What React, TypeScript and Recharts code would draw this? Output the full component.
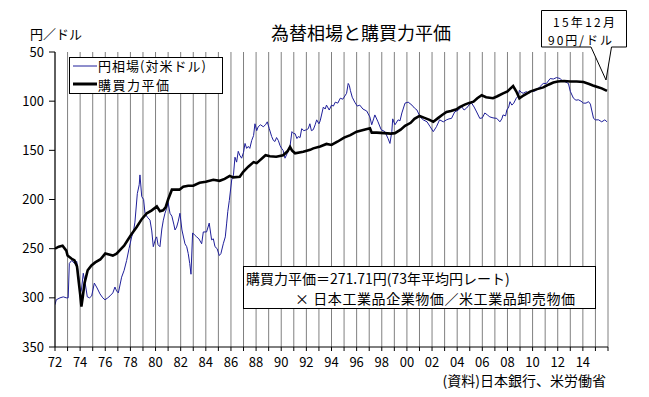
import React from 'react';
import { LineChart, Line, XAxis, YAxis, CartesianGrid } from 'recharts';

// 円相場（対米ドル）: time (year fraction) and value
const yenTimes = [
  1972.0, 1972.1, 1972.4, 1972.66, 1972.9, 1973.05, 1973.14, 1973.33, 1973.55, 1973.73, 1973.9,
  1974.0, 1974.1, 1974.25, 1974.4, 1974.57, 1974.75, 1974.92, 1975.13, 1975.35, 1975.58, 1975.8,
  1975.98, 1976.2, 1976.38, 1976.6, 1976.77, 1976.9, 1977.04, 1977.3, 1977.5, 1977.7, 1977.89,
  1978.1, 1978.25, 1978.36, 1978.55, 1978.7, 1978.76, 1978.9, 1979.05, 1979.16, 1979.35, 1979.56,
  1979.7, 1979.82, 1980.0, 1980.09, 1980.2, 1980.35, 1980.5, 1980.62, 1980.75, 1980.88, 1981.0,
  1981.15, 1981.3, 1981.45, 1981.55, 1981.68, 1981.81, 1981.94, 1982.1, 1982.34, 1982.48, 1982.6,
  1982.72, 1982.82, 1982.95, 1983.1, 1983.27, 1983.45, 1983.67, 1983.8, 1984.06, 1984.27, 1984.46,
  1984.6, 1984.73, 1984.9, 1985.07, 1985.2, 1985.39, 1985.55, 1985.66, 1985.75, 1985.87, 1986.06,
  1986.2, 1986.32, 1986.45, 1986.58, 1986.7, 1986.85, 1987.0, 1987.12, 1987.25, 1987.38, 1987.5,
  1987.65, 1987.8, 1987.91, 1988.05, 1988.17, 1988.35, 1988.57, 1988.75, 1988.89, 1989.05, 1989.24,
  1989.38, 1989.5, 1989.63, 1989.77, 1989.9, 1990.03, 1990.15, 1990.3, 1990.48, 1990.6, 1990.7,
  1990.85, 1991.0, 1991.1, 1991.25, 1991.36, 1991.5, 1991.63, 1991.8, 1992.02, 1992.15, 1992.28,
  1992.4, 1992.55, 1992.7, 1992.82, 1993.0, 1993.1, 1993.35, 1993.5, 1993.6, 1993.82, 1994.0,
  1994.15, 1994.3, 1994.5, 1994.7, 1994.9, 1995.2, 1995.33, 1995.42, 1995.5, 1995.65, 1995.85,
  1996.05, 1996.25, 1996.5, 1996.8, 1997.05, 1997.2, 1997.35, 1997.45, 1997.7, 1997.95, 1998.25,
  1998.5, 1998.65, 1998.8, 1998.87, 1999.05, 1999.3, 1999.45, 1999.6, 1999.85, 2000.1, 2000.4,
  2000.6, 2000.8, 2001.05, 2001.3, 2001.6, 2001.85, 2002.1, 2002.35, 2002.6, 2002.9, 2003.15,
  2003.35, 2003.55, 2003.8, 2004.1, 2004.35, 2004.55, 2004.75, 2005.0, 2005.15, 2005.35, 2005.55,
  2005.8, 2006.0, 2006.2, 2006.4, 2006.6, 2006.85, 2007.15, 2007.4, 2007.55, 2007.65, 2007.85,
  2007.95, 2008.1, 2008.2, 2008.35, 2008.5, 2008.7, 2008.85, 2008.95, 2009.1, 2009.25, 2009.5,
  2009.7, 2009.9, 2010.1, 2010.3, 2010.6, 2010.85, 2011.1, 2011.4, 2011.65, 2011.9, 2012.2,
  2012.4, 2012.55, 2012.85, 2013.0, 2013.25, 2013.45, 2013.65, 2013.85, 2014.05, 2014.25, 2014.45,
  2014.6, 2014.7, 2014.85, 2015.0, 2015.25, 2015.5, 2015.75, 2015.92,
];
const yenValues = [
  307, 302, 300, 299, 300, 300, 265, 262, 265, 263, 280,
  296, 292, 275, 285, 299, 300, 298, 285, 290, 296, 300,
  302, 300, 298, 295, 289, 293, 295, 279, 272, 262, 250,
  238, 232, 223, 194, 185, 175, 197, 200, 214, 218, 221,
  232, 248, 240, 238, 246, 248, 230, 221, 214, 209, 203,
  214, 217, 225, 231, 228, 222, 214, 231, 245, 248, 255,
  265, 276, 234, 236, 238, 240, 245, 233, 233, 224, 241,
  240, 248, 250, 257, 255, 245, 238, 224, 212, 201, 180,
  175, 157, 162, 151, 155, 158, 152, 143, 148, 146, 148,
  140, 135, 123, 130, 126, 124, 126, 124, 121, 128, 136,
  140, 141, 137, 140, 145, 148, 150, 158, 153, 148, 146,
  131, 133, 133, 138, 136, 137, 128, 130, 129, 128, 123,
  130, 129, 124, 119, 123, 120, 106, 108, 104, 109, 104,
  105, 101, 102, 97, 98, 92, 82, 84, 89, 96, 101,
  105, 104, 108, 110, 116, 124, 118, 114, 121, 129, 131,
  138, 143, 131, 118, 124, 119, 120, 112, 102, 101, 104,
  107, 109, 116, 119, 121, 126, 131, 126, 119, 121, 119,
  118, 117.5, 111, 109, 105.6, 109, 107, 103, 102, 106, 111,
  117.5, 117, 112, 114, 116, 117, 117.5, 121, 118, 114, 115,
  109, 106, 100.5, 104, 102, 97, 95, 89, 91, 92, 90.3,
  92, 90, 90, 89, 85, 82, 82, 77, 77.5, 76, 77,
  80, 80, 82, 90, 97, 99, 98.6, 100, 102, 102, 100.5,
  103, 109, 117.5, 119, 119, 121, 119, 121,
];

// 購買力平価
const pppTimes = [
  1972.0, 1972.3, 1972.6, 1972.9, 1973.0, 1973.3, 1973.55, 1973.75, 1973.9, 1974.0, 1974.1,
  1974.2, 1974.35, 1974.6, 1974.9, 1975.2, 1975.6, 1976.0, 1976.3, 1976.6, 1976.9, 1977.2,
  1977.5, 1977.8, 1978.1, 1978.5, 1978.9, 1979.3, 1979.7, 1980.1, 1980.35, 1980.6, 1980.8,
  1981.0, 1981.3, 1981.6, 1981.9, 1982.2, 1982.6, 1983.0, 1983.5, 1984.0, 1984.6, 1985.1,
  1985.5, 1985.9, 1986.18, 1986.7, 1986.98, 1987.38, 1987.8, 1988.05, 1988.75, 1989.1, 1989.6,
  1990.15, 1990.5, 1990.7, 1990.85, 1991.1, 1991.75, 1992.3, 1992.55, 1993.1, 1993.6, 1994.0,
  1994.5, 1995.0, 1995.5, 1996.0, 1996.6, 1997.06, 1997.2, 1997.6, 1998.2, 1998.7, 1999.05,
  1999.5, 1999.85, 2000.3, 2000.6, 2001.0, 2001.4, 2001.8, 2002.1, 2002.5, 2002.8, 2003.15,
  2003.5, 2003.95, 2004.2, 2004.6, 2004.9, 2005.3, 2005.6, 2005.95, 2006.3, 2006.85, 2007.2,
  2007.65, 2008.0, 2008.25, 2008.45, 2008.7, 2008.95, 2009.3, 2009.8, 2010.3, 2010.85, 2011.3,
  2011.65, 2012.0, 2012.5, 2013.0, 2013.5, 2014.05, 2014.5, 2014.8, 2015.1, 2015.5, 2015.92,
];
const pppValues = [
  250, 248, 247, 252, 257, 260, 262, 268, 285, 296, 309,
  300, 285, 272, 267, 264, 261, 255, 256, 257, 255, 251,
  247, 241, 235, 228, 220, 214, 211, 207, 212, 211, 208,
  200, 190, 190, 190, 187, 186, 186, 183, 182, 180, 181,
  179, 176, 177.5, 176.8, 171.8, 166.6, 162, 163, 155, 156, 156.5,
  155, 151, 146.5, 150, 153, 151.5, 149.5, 148, 146, 143.5, 144.5,
  141, 137, 134.5, 131, 129, 127.6, 132, 132, 132.5, 133, 132.5,
  129, 125, 122, 118, 115, 117, 119, 121, 117, 114, 111,
  110, 108.3, 106, 103.5, 102, 100.5, 97, 94, 96, 97, 95,
  92, 90, 87, 84.6, 90, 97, 94, 90.3, 88, 86, 83,
  81, 80, 79.5, 80, 80, 80.5, 82.5, 84, 85.3, 87, 89.5,
];

const xTickYears = [
  1972, 1973, 1974, 1975, 1976, 1977, 1978, 1979, 1980, 1981, 1982, 1983, 1984, 1985, 1986,
  1987, 1988, 1989, 1990, 1991, 1992, 1993, 1994, 1995, 1996, 1997, 1998, 1999, 2000, 2001,
  2002, 2003, 2004, 2005, 2006, 2007, 2008, 2009, 2010, 2011, 2012, 2013, 2014, 2015, 2016,
];
const xLabelYears = [
  1972, 1974, 1976, 1978, 1980, 1982, 1984, 1986, 1988, 1990, 1992, 1994, 1996, 1998, 2000,
  2002, 2004, 2006, 2008, 2010, 2012, 2014,
];
const yTicks = [50, 100, 150, 200, 250, 300, 350];

const yenData = yenTimes.map((t, i) => ({ t, v: yenValues[i] }));
const pppData = pppTimes.map((t, i) => ({ t, v: pppValues[i] }));

const W = 649;
const H = 397;
const FONT = "'Noto Sans CJK JP', 'Noto Sans', sans-serif";
const BLUE = '#1f1f9a';

const fmtX = (y: number) =>
  xLabelYears.includes(y) ? String(y % 100).padStart(2, '0') : '';

export default function App() {
  return (
    <div
      style={{
        position: 'absolute',
        left: 0,
        top: 0,
        width: W,
        height: H,
        background: '#fff',
        fontFamily: FONT,
      }}
    >
      <LineChart width={W} height={H} margin={{ top: 52, right: 41, bottom: 20, left: 0 }}>
        <CartesianGrid horizontal={false} stroke="#808080" strokeWidth={1} />
        <XAxis
          type="number"
          dataKey="t"
          domain={[1972, 2016]}
          ticks={xTickYears}
          interval={0}
          tickFormatter={fmtX}
          tickSize={4}
          tickMargin={7}
          height={30}
          allowDataOverflow
          axisLine={{ stroke: '#000' }}
          tickLine={{ stroke: '#000' }}
          tick={{ fill: '#000', fontSize: 13, fontFamily: FONT }}
        />
        <YAxis
          type="number"
          domain={[50, 350]}
          reversed
          ticks={yTicks}
          interval={0}
          width={55}
          tickSize={6}
          tickMargin={5}
          allowDataOverflow
          axisLine={{ stroke: '#000' }}
          tickLine={{ stroke: '#000' }}
          tick={{ fill: '#000', fontSize: 13, fontFamily: FONT }}
        />
        <Line
          data={yenData}
          dataKey="v"
          stroke={BLUE}
          strokeWidth={1}
          dot={false}
          isAnimationActive={false}
        />
        <Line
          data={pppData}
          dataKey="v"
          stroke="#000"
          strokeWidth={2.6}
          dot={false}
          isAnimationActive={false}
        />
      </LineChart>
      <svg
        width={W}
        height={H}
        style={{ position: 'absolute', left: 0, top: 0, pointerEvents: 'none' }}
        fontFamily={FONT}
      >
        <text x={30} y={33} fontSize={13} dominantBaseline="central" fill="#000">
          円／ドル
        </text>
        <text x={361} y={32} fontSize={18} textAnchor="middle" dominantBaseline="central" fill="#000">
          為替相場と購買力平価
        </text>

        {/* legend */}
        <rect x={69.5} y={57.5} width={153} height={36} fill="#fff" stroke="#000" />
        <line x1={73} x2={97} y1={66} y2={66} stroke={BLUE} strokeWidth={1} />
        <text
          x={98}
          y={65.5}
          fontSize={13}
          dominantBaseline="central"
          fill="#000"
          textLength={108}
          lengthAdjust="spacing"
        >
          円相場(対米ドル)
        </text>
        <line x1={73} x2={97} y1={84} y2={84} stroke="#000" strokeWidth={3} />
        <text
          x={98}
          y={84.5}
          fontSize={13}
          dominantBaseline="central"
          fill="#000"
          textLength={71}
          lengthAdjust="spacing"
        >
          購買力平価
        </text>

        {/* note box */}
        <rect x={243.5} y={266.5} width={352} height={42} fill="#fff" stroke="#000" />
        <text x={246} y={278} fontSize={14} dominantBaseline="central" fill="#000">
          購買力平価＝271.71円(73年平均円レート)
        </text>
        <text
          x={295}
          y={297.5}
          fontSize={14}
          dominantBaseline="central"
          fill="#000"
          textLength={280}
          lengthAdjust="spacing"
        >
          × 日本工業品企業物価／米工業品卸売物価
        </text>

        {/* callout */}
        <path
          d="M541.5,10.5 H626.5 V47 H611.5 L606,80 L591,47 H541.5 Z"
          fill="#fff"
          stroke="#000"
          strokeWidth={1}
        />
        <text
          x={553}
          y={21}
          fontSize={12}
          dominantBaseline="central"
          fill="#000"
          textLength={62}
          lengthAdjust="spacing"
        >
          15年12月
        </text>
        <text
          x={548}
          y={39}
          fontSize={12}
          dominantBaseline="central"
          fill="#000"
          textLength={64}
          lengthAdjust="spacing"
        >
          90円/ドル
        </text>

        <text x={606} y={380} fontSize={14} textAnchor="end" dominantBaseline="central" fill="#000">
          (資料)日本銀行、米労働省
        </text>
      </svg>
    </div>
  );
}
